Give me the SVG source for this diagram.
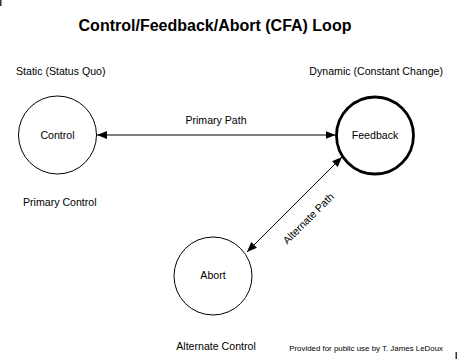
<svg xmlns="http://www.w3.org/2000/svg" width="457" height="361" viewBox="0 0 457 361">
<style>
text{font-family:"Liberation Sans",Arial,sans-serif;fill:#000}
.t{font-size:10.6px}
.c{text-anchor:middle}
.node{fill:#fff;stroke:#000;stroke-width:1}
.thick{stroke-width:2.8}
.conn{stroke:#000;stroke-width:1;fill:none}
</style>
<defs>
<marker id="ah" markerUnits="userSpaceOnUse" markerWidth="10" markerHeight="10" viewBox="0 0 10 10" refX="10" refY="5" orient="auto-start-reverse">
<path d="M0,1 L10,5 L0,9 Z" fill="#000"/>
</marker>
</defs>
<rect width="457" height="361" fill="#fff"/>
<rect x="0" y="0" width="1.5" height="6" fill="#333"/>
<rect x="455.5" y="352" width="1.5" height="7" fill="#333"/>
<text x="215" y="31" class="c" style="font-size:16px;font-weight:bold">Control/Feedback/Abort (CFA) Loop</text>
<text x="16" y="75" class="t">Static (Status Quo)</text>
<text x="443" y="75" class="t" text-anchor="end">Dynamic (Constant Change)</text>
<g id="connectors">
<line x1="97" y1="135" x2="335.5" y2="135" class="conn" marker-start="url(#ah)" marker-end="url(#ah)"/>
<text x="216" y="124" class="t c">Primary Path</text>
<line x1="247" y1="252" x2="342" y2="157" class="conn" marker-start="url(#ah)" marker-end="url(#ah)"/>
<text x="0" y="0" class="t c" transform="translate(311,221) rotate(-45)">Alternate Path</text>
</g>
<g id="control">
<circle cx="57.5" cy="135" r="39" class="node"/>
<text x="57.5" y="138.5" class="t c">Control</text>
<text x="23" y="206" class="t">Primary Control</text>
</g>
<g id="feedback">
<circle cx="375" cy="135.5" r="38.5" class="node thick"/>
<text x="375" y="138.5" class="t c">Feedback</text>
</g>
<g id="abort">
<circle cx="213" cy="276" r="39" class="node"/>
<text x="213" y="279" class="t c">Abort</text>
<text x="216" y="350" class="t c">Alternate Control</text>
</g>
<text x="443" y="351" text-anchor="end" style="font-size:7.9px">Provided for public use by T. James LeDoux</text>
</svg>
